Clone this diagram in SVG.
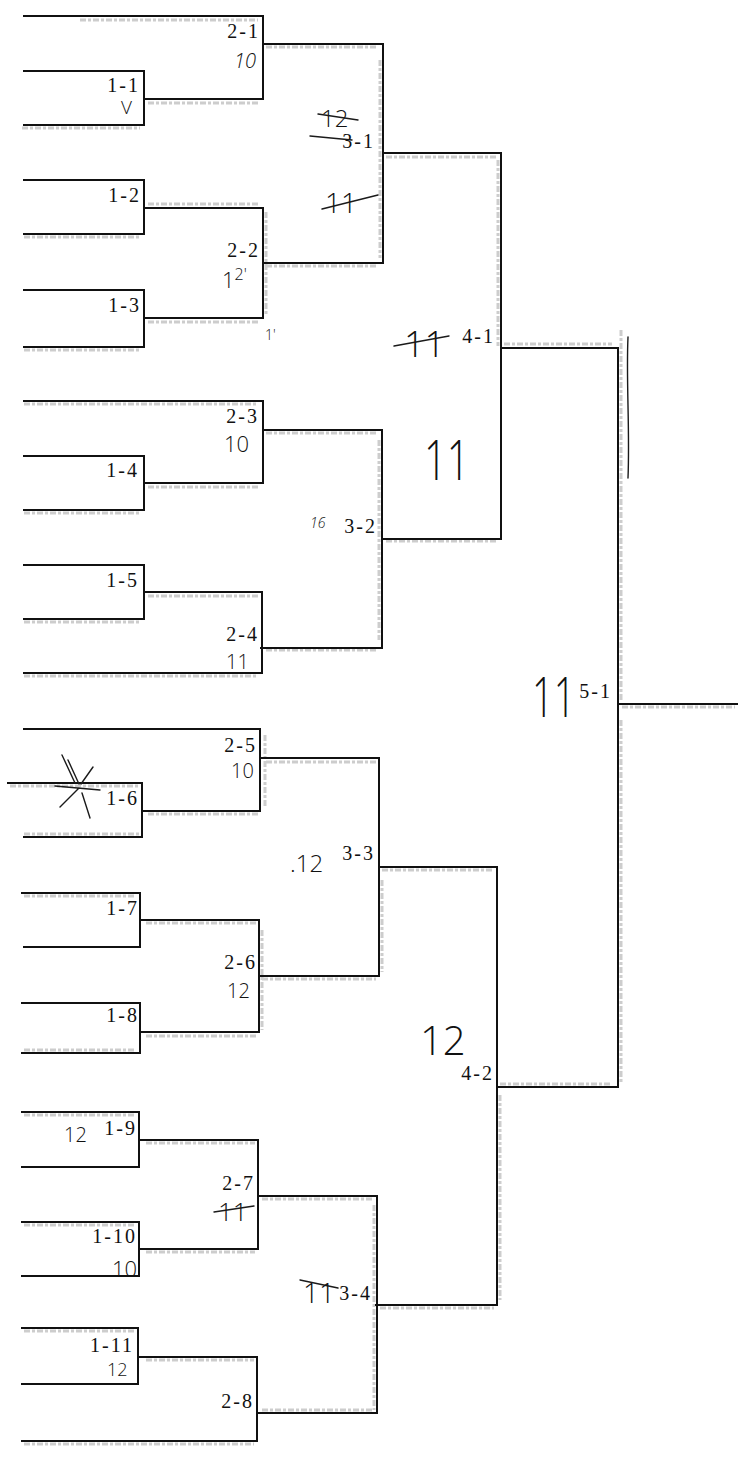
<svg xmlns="http://www.w3.org/2000/svg" width="747" height="1461" viewBox="0 0 747 1461">
<style>
.ln{fill:none;stroke:#111;stroke-width:2;stroke-linecap:square}
.hl{fill:none;stroke:#9c9c9c;stroke-width:3;opacity:.5;stroke-dasharray:6 2 3 2}
.lb{font-family:"Liberation Serif",serif;font-size:20px;fill:#111;text-anchor:end;letter-spacing:2px}
.hw{font-family:"Open Sans","Liberation Sans",sans-serif;font-weight:300;fill:#111}
.pen{fill:none;stroke:#1a1a1a;stroke-width:1.4;stroke-linecap:round}
</style>
<rect width="747" height="1461" fill="#fff"/>

<g id="highlights">
<path class="hl" d="M80 20 H258 M22 128 H140 M148 103 H258 M266 47 H378 M380 60 V258 M148 204 H258 M24 237 H140 M266 212 V316 M266 266 H378 M148 322 H258 M24 350 H140 M386 157 H496 M498 160 V346 M504 344 H612 M621 330 V700 M621 720 V1082 M622 707 H735"/>
<path class="hl" d="M24 404 H258 M266 433 H378 M379 440 V640 M148 487 H258 M24 513 H140 M148 596 H258 M24 622 H140 M24 676 H258 M266 650 H378 M386 541 H496 M266 762 H376 M265 735 V808 M10 786 H138 M148 814 H258 M24 834 H140 M382 870 H494 M382 880 V972 M24 896 H136 M146 923 H256 M146 1036 H256 M24 1050 H136 M262 979 H376 M262 930 V1030 M500 1084 H612 M500 1095 V1300 M24 1115 H136 M146 1143 H255 M24 1225 H136 M146 1252 H255 M262 1199 H374 M374 1205 V1410 M380 1308 H494 M24 1331 H134 M146 1360 H254 M262 1410 H374 M24 1444 H254"/>
</g>

<g id="connectors">
<path class="ln" d="M24 16 H263 V99 H144"/>
<path class="ln" d="M24 71 H144 V125 H24"/>
<path class="ln" d="M263 44 H383 V263 H263"/>
<path class="ln" d="M24 180 H144 V234 H24"/>
<path class="ln" d="M144 208 H263 V318 H144"/>
<path class="ln" d="M24 290 H144 V347 H24"/>
<path class="ln" d="M383 153 H501 V539 H382"/>
<path class="ln" d="M501 348 H618 V1087 H497"/>
<path class="ln" d="M618 704 H737"/>
<path class="ln" d="M24 401 H263 V483 H144"/>
<path class="ln" d="M263 430 H382 V648 H261"/>
<path class="ln" d="M24 456 H144 V510 H24"/>
<path class="ln" d="M24 565 H144 V619 H24"/>
<path class="ln" d="M144 592 H262 V673 H24"/>
<path class="ln" d="M24 729 H260 V811 H142"/>
<path class="ln" d="M260 758 H379 V976 H259"/>
<path class="ln" d="M8 783 H142 V837 H24"/>
<path class="ln" d="M379 867 H497 V1305 H376"/>
<path class="ln" d="M22 893 H140 V947 H24"/>
<path class="ln" d="M140 920 H259 V1032 H140"/>
<path class="ln" d="M22 1003 H140 V1053 H22"/>
<path class="ln" d="M22 1112 H139 V1167 H22"/>
<path class="ln" d="M139 1140 H258 V1249 H139"/>
<path class="ln" d="M22 1222 H139 V1276 H22"/>
<path class="ln" d="M258 1196 H377 V1413 H257"/>
<path class="ln" d="M22 1328 H138 V1384 H22"/>
<path class="ln" d="M138 1357 H257 V1441 H22"/>
</g>

<g id="m1-1"><text class="lb" x="140" y="92">1-1</text><text class="hw" x="121" y="114" font-size="19">V</text></g>
<g id="m1-2"><text class="lb" x="141" y="202">1-2</text></g>
<g id="m1-3"><text class="lb" x="141" y="312">1-3</text></g>
<g id="m1-4"><text class="lb" x="139" y="477">1-4</text></g>
<g id="m1-5"><text class="lb" x="139" y="587">1-5</text></g>
<g id="m1-6"><text class="lb" x="139" y="805">1-6</text>
<path class="pen" d="M62 755 L75 783 M68 760 L79 784 M93 767 L81 784 M60 807 L79 788 M90 818 L82 793 M55 786 L100 790"/></g>
<g id="m1-7"><text class="lb" x="139" y="915">1-7</text></g>
<g id="m1-8"><text class="lb" x="139" y="1022">1-8</text></g>
<g id="m1-9"><text class="lb" x="137" y="1135">1-9</text><text class="hw" x="64" y="1142" font-size="20">12</text></g>
<g id="m1-10"><text class="lb" x="137" y="1243">1-10</text><text class="hw" x="112" y="1277" font-size="22">10</text></g>
<g id="m1-11"><text class="lb" x="134" y="1352">1-11</text><text class="hw" x="107" y="1376" font-size="18">12</text></g>

<g id="m2-1"><text class="lb" x="260" y="38">2-1</text><text class="hw" x="234" y="68" font-size="20" font-style="italic">10</text></g>
<g id="m2-2"><text class="lb" x="260" y="257">2-2</text><text class="hw" x="222" y="288" font-size="22">1<tspan font-size="16" dy="-8">2'</tspan></text><text class="hw" x="265" y="340" font-size="14">1'</text></g>
<g id="m2-3"><text class="lb" x="259" y="423">2-3</text><text class="hw" x="224" y="452" font-size="22">10</text></g>
<g id="m2-4"><text class="lb" x="259" y="641">2-4</text><text class="hw" x="226" y="669" font-size="20">11</text></g>
<g id="m2-5"><text class="lb" x="257" y="752">2-5</text><text class="hw" x="231" y="778" font-size="20">10</text></g>
<g id="m2-6"><text class="lb" x="257" y="969">2-6</text><text class="hw" x="227" y="998" font-size="20">12</text></g>
<g id="m2-7"><text class="lb" x="255" y="1190">2-7</text><text class="hw" x="218" y="1221" font-size="26">11</text><path class="pen" d="M214 1212 L254 1206"/></g>
<g id="m2-8"><text class="lb" x="254" y="1408">2-8</text></g>

<g id="m3-1"><text class="lb" x="375" y="148">3-1</text>
<text class="hw" x="321" y="127" font-size="24">12</text><path class="pen" d="M318 114 L358 120 M310 136 L352 140"/>
<text class="hw" x="325" y="213" font-size="28">11</text><path class="pen" d="M322 209 L378 195"/></g>
<g id="m3-2"><text class="lb" x="377" y="533">3-2</text><text class="hw" x="310" y="528" font-size="14" font-style="italic">16</text></g>
<g id="m3-3"><text class="lb" x="375" y="860">3-3</text><text class="hw" x="290" y="872" font-size="24">.12</text></g>
<g id="m3-4"><text class="lb" x="372" y="1300">3-4</text><text class="hw" x="303" y="1303" font-size="28">11</text><path class="pen" d="M300 1280 L338 1288"/></g>

<g id="m4-1"><text class="lb" x="495" y="343">4-1</text>
<text class="hw" x="404" y="357" font-size="36">11</text><path class="pen" d="M394 346 L449 336"/>
<text class="hw" transform="translate(424 480) scale(1 1.4)" font-size="40">11</text></g>
<g id="m4-2"><text class="lb" x="494" y="1080">4-2</text><text class="hw" x="420" y="1055" font-size="40">12</text></g>

<g id="m5-1"><text class="lb" x="612" y="698">5-1</text><text class="hw" transform="translate(532 717) scale(1 1.45)" font-size="38">11</text>
<path class="pen" d="M628 337 C626 380 630 430 628 478"/></g>
</svg>
